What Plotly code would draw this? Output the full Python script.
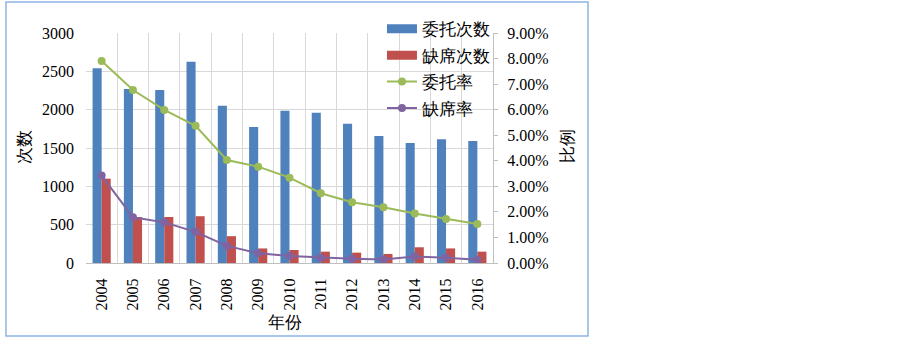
import plotly.graph_objects as go

years = ["2004", "2005", "2006", "2007", "2008", "2009", "2010",
         "2011", "2012", "2013", "2014", "2015", "2016"]
entrust_count = [2540, 2270, 2255, 2625, 2050, 1775, 1985, 1960, 1815, 1655, 1565, 1615, 1590]
absent_count = [1100, 600, 600, 610, 350, 190, 170, 148, 135, 118, 205, 190, 148]
entrust_rate = [0.0790, 0.0677, 0.0599, 0.0537, 0.0403, 0.0377, 0.0334,
                0.0273, 0.0238, 0.0218, 0.0194, 0.0172, 0.0153]
absent_rate = [0.0342, 0.0179, 0.0159, 0.0122, 0.0067, 0.0038, 0.0027,
               0.0021, 0.0017, 0.0014, 0.0025, 0.0021, 0.0013]

FONT = "Liberation Serif"
GRID = "#D9D9D9"
BLUE, RED, GREEN, PURPLE = "#4F81BD", "#C0504D", "#9BBB59", "#8064A2"

fig = go.Figure()
fig.add_trace(go.Bar(x=years, y=entrust_count, name="委托次数", showlegend=False,
                     marker=dict(color=BLUE, line=dict(width=0))))
fig.add_trace(go.Bar(x=years, y=absent_count, name="缺席次数", showlegend=False,
                     marker=dict(color=RED, line=dict(width=0))))
fig.add_trace(go.Scatter(x=years, y=entrust_rate, name="委托率", yaxis="y2",
                         mode="lines+markers", showlegend=False,
                         line=dict(color=GREEN, width=2),
                         marker=dict(color=GREEN, size=8)))
fig.add_trace(go.Scatter(x=years, y=absent_rate, name="缺席率", yaxis="y2",
                         mode="lines+markers", showlegend=False,
                         line=dict(color=PURPLE, width=2),
                         marker=dict(color=PURPLE, size=8)))

# legend-only entries (wide rectangle symbols for bars, like the reference)
fig.add_trace(go.Scatter(x=[None], y=[None], name="委托次数", mode="lines",
                         legendgroup="a", line=dict(color=BLUE, width=9)))
fig.add_trace(go.Scatter(x=[None], y=[None], name="缺席次数", mode="lines",
                         legendgroup="b", line=dict(color=RED, width=9)))
fig.add_trace(go.Scatter(x=[None], y=[None], name="委托率", mode="lines+markers",
                         legendgroup="c", line=dict(color=GREEN, width=2),
                         marker=dict(color=GREEN, size=8)))
fig.add_trace(go.Scatter(x=[None], y=[None], name="缺席率", mode="lines+markers",
                         legendgroup="d", line=dict(color=PURPLE, width=2),
                         marker=dict(color=PURPLE, size=8)))

fig.update_layout(
    width=903, height=340,
    margin=dict(l=86, r=410, t=33, b=77, autoexpand=False),
    paper_bgcolor="white", plot_bgcolor="white",
    font=dict(family=FONT, size=16, color="black"),
    barmode="group", bargap=0.42, bargroupgap=0,
    showlegend=True,
    legend=dict(xref="container", yref="container",
                x=0.423, y=0.967, xanchor="left", yanchor="top",
                bgcolor="rgba(0,0,0,0)", font=dict(size=17),
                tracegroupgap=1.3, itemwidth=30),
    xaxis=dict(type="category", range=[-0.5, 12.5], tickangle=-90,
               tickson="boundaries",
               showgrid=True, gridcolor=GRID, gridwidth=1, automargin=False,
               showline=True, linecolor="#BFBFBF", ticks="",
               ticklabelstandoff=8, tickfont=dict(size=16)),
    yaxis=dict(range=[0, 3000], dtick=500, showgrid=True, gridcolor=GRID,
               zeroline=False, showline=False, ticks="", automargin=False,
               ticklabelstandoff=11, tickfont=dict(size=16)),
    yaxis2=dict(range=[0, 0.09], dtick=0.01, tickformat=".2%", overlaying="y",
                side="right", showgrid=False, zeroline=False, automargin=False,
                showline=True, linecolor="#BFBFBF", ticks="outside",
                ticklen=4, tickcolor="#BFBFBF", ticklabelstandoff=6,
                tickfont=dict(size=16)),
    annotations=[
        dict(text="次数", xref="paper", yref="paper", x=-0.152, y=0.504,
             xanchor="center", yanchor="middle",
             showarrow=False, textangle=-90, font=dict(size=17)),
        dict(text="比例", xref="paper", yref="paper", x=1.184, y=0.509,
             xanchor="center", yanchor="middle",
             showarrow=False, textangle=-90, font=dict(size=17)),
        dict(text="年份", xref="paper", yref="paper", x=0.489, y=-0.257,
             xanchor="center", yanchor="middle",
             showarrow=False, font=dict(size=17)),
    ],
    shapes=[dict(type="rect", xref="paper", yref="paper",
                 x0=-0.1966, x1=1.2334, y0=-0.3174, y1=1.1348,
                 line=dict(color="#8EB4E3", width=1.5), fillcolor="rgba(0,0,0,0)",
                 layer="below")],
)

fig.write_html("out.html", config={"displayModeBar": False},
               post_script="document.body.style.margin='0';")
